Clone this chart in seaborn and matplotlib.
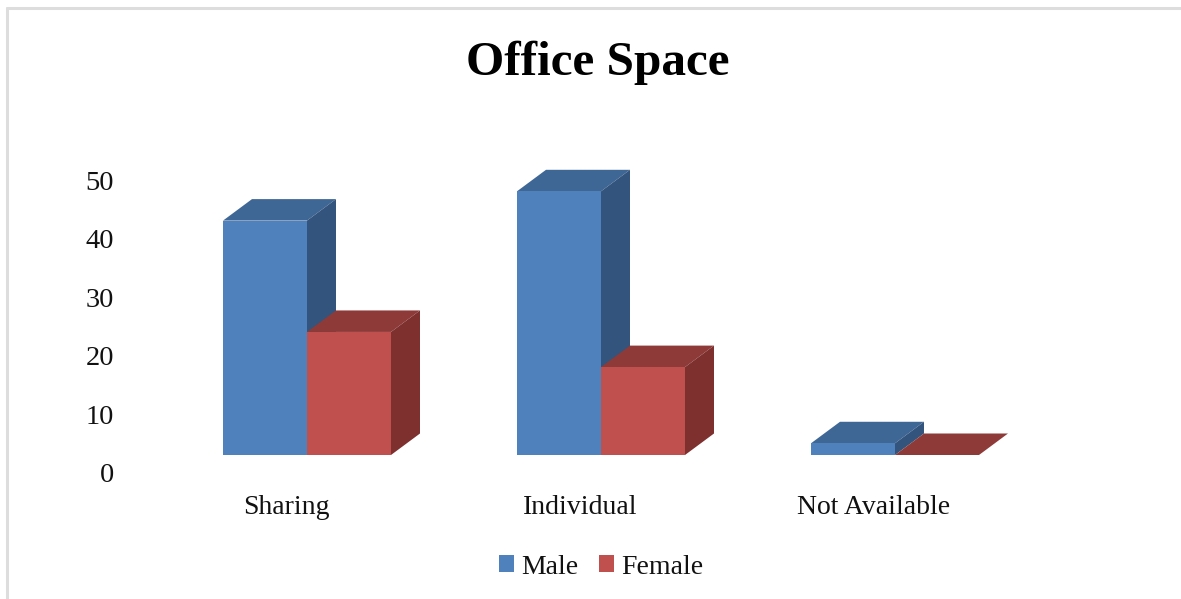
import pandas as pd
import seaborn as sns
import matplotlib.pyplot as plt
from matplotlib.lines import Line2D
from matplotlib.transforms import ScaledTranslation

categories = ['Sharing', 'Individual', 'Not Available']
male = [40, 45, 2]
female = [21, 15, 0]
y_ticks = [0, 10, 20, 30, 40, 50]

front = ['#4F81BD', '#C0504D']
top = ['#3F6795', '#8E3A38']
side = ['#33547C', '#7D302E']

W, H = 1181, 599
depth_x = 29 / 294
depth_y = 21.5 / 5.86

sns.set_theme(style='white')
plt.rcParams['font.family'] = ['Liberation Serif', 'DejaVu Serif']

df = pd.DataFrame({
    'cat': categories * 2,
    'sex': ['Male'] * 3 + ['Female'] * 3,
    'val': male + female,
})

fig = plt.figure(figsize=(W / 100, H / 100), dpi=100)
ax = fig.add_axes([160 / W, 1 - 455 / H, 882 / W, 293 / H])
sns.barplot(data=df, x='cat', y='val', hue='sex', palette=front, width=0.5714,
            gap=0, saturation=1, linewidth=0, ax=ax)
ax.set_xlim(-0.5, 2.5)
ax.set_ylim(0, 50)

# 3d faces built on the seaborn bars
for s, cont in enumerate(ax.containers):
    for bar in cont:
        bar.set_zorder(2 + s * 2)
        x0 = bar.get_x()
        x1 = x0 + bar.get_width()
        h = bar.get_height()
        ax.fill([x0, x1, x1 + depth_x, x0 + depth_x],
                [h, h, h + depth_y, h + depth_y],
                color=top[s], lw=0, zorder=1 + s * 2, clip_on=False)
        ax.fill([x1, x1 + depth_x, x1 + depth_x, x1],
                [0, depth_y, h + depth_y, h],
                color=side[s], lw=0, zorder=1 + s * 2, clip_on=False)

sns.despine(ax=ax, left=True, bottom=True)
ax.set_xlabel('')
ax.set_ylabel('')
ax.set_yticks(y_ticks)
ax.tick_params(axis='y', length=0, pad=33, labelsize=20.5, labelcolor='#111111')
ax.tick_params(axis='x', length=0, pad=29, labelsize=20, labelcolor='#111111')

# labels sit lower and further left than the front faces
down = ScaledTranslation(0, -18 / 100, fig.dpi_scale_trans)
left = ScaledTranslation(-21 / 100, 0, fig.dpi_scale_trans)
for lab in ax.get_yticklabels():
    lab.set_transform(lab.get_transform() + down)
for lab in ax.get_xticklabels():
    lab.set_transform(lab.get_transform() + left)

sns.move_legend(ax, 'center', bbox_to_anchor=(601 / W, 1 - 567 / H),
                bbox_transform=fig.transFigure, ncol=2, title=None, frameon=False,
                fontsize=20, handlelength=0.54, handleheight=0.54, handletextpad=0.26,
                columnspacing=0.72, labelcolor='#111111')

fig.text(597.5 / W, 1 - 63 / H, 'Office Space', ha='center', va='center',
         fontsize=35.5, fontweight='bold', color='black')

# light frame of the chart area, only left and top show
frame = dict(color='#DDDDDD', lw=2.2, transform=fig.transFigure)
fig.add_artist(Line2D([7 / W, 7 / W], [0, 1 - 8 / H], **frame))
fig.add_artist(Line2D([7 / W, 1], [1 - 8 / H, 1 - 8 / H], **frame))

fig.savefig('out.png', dpi=100)
